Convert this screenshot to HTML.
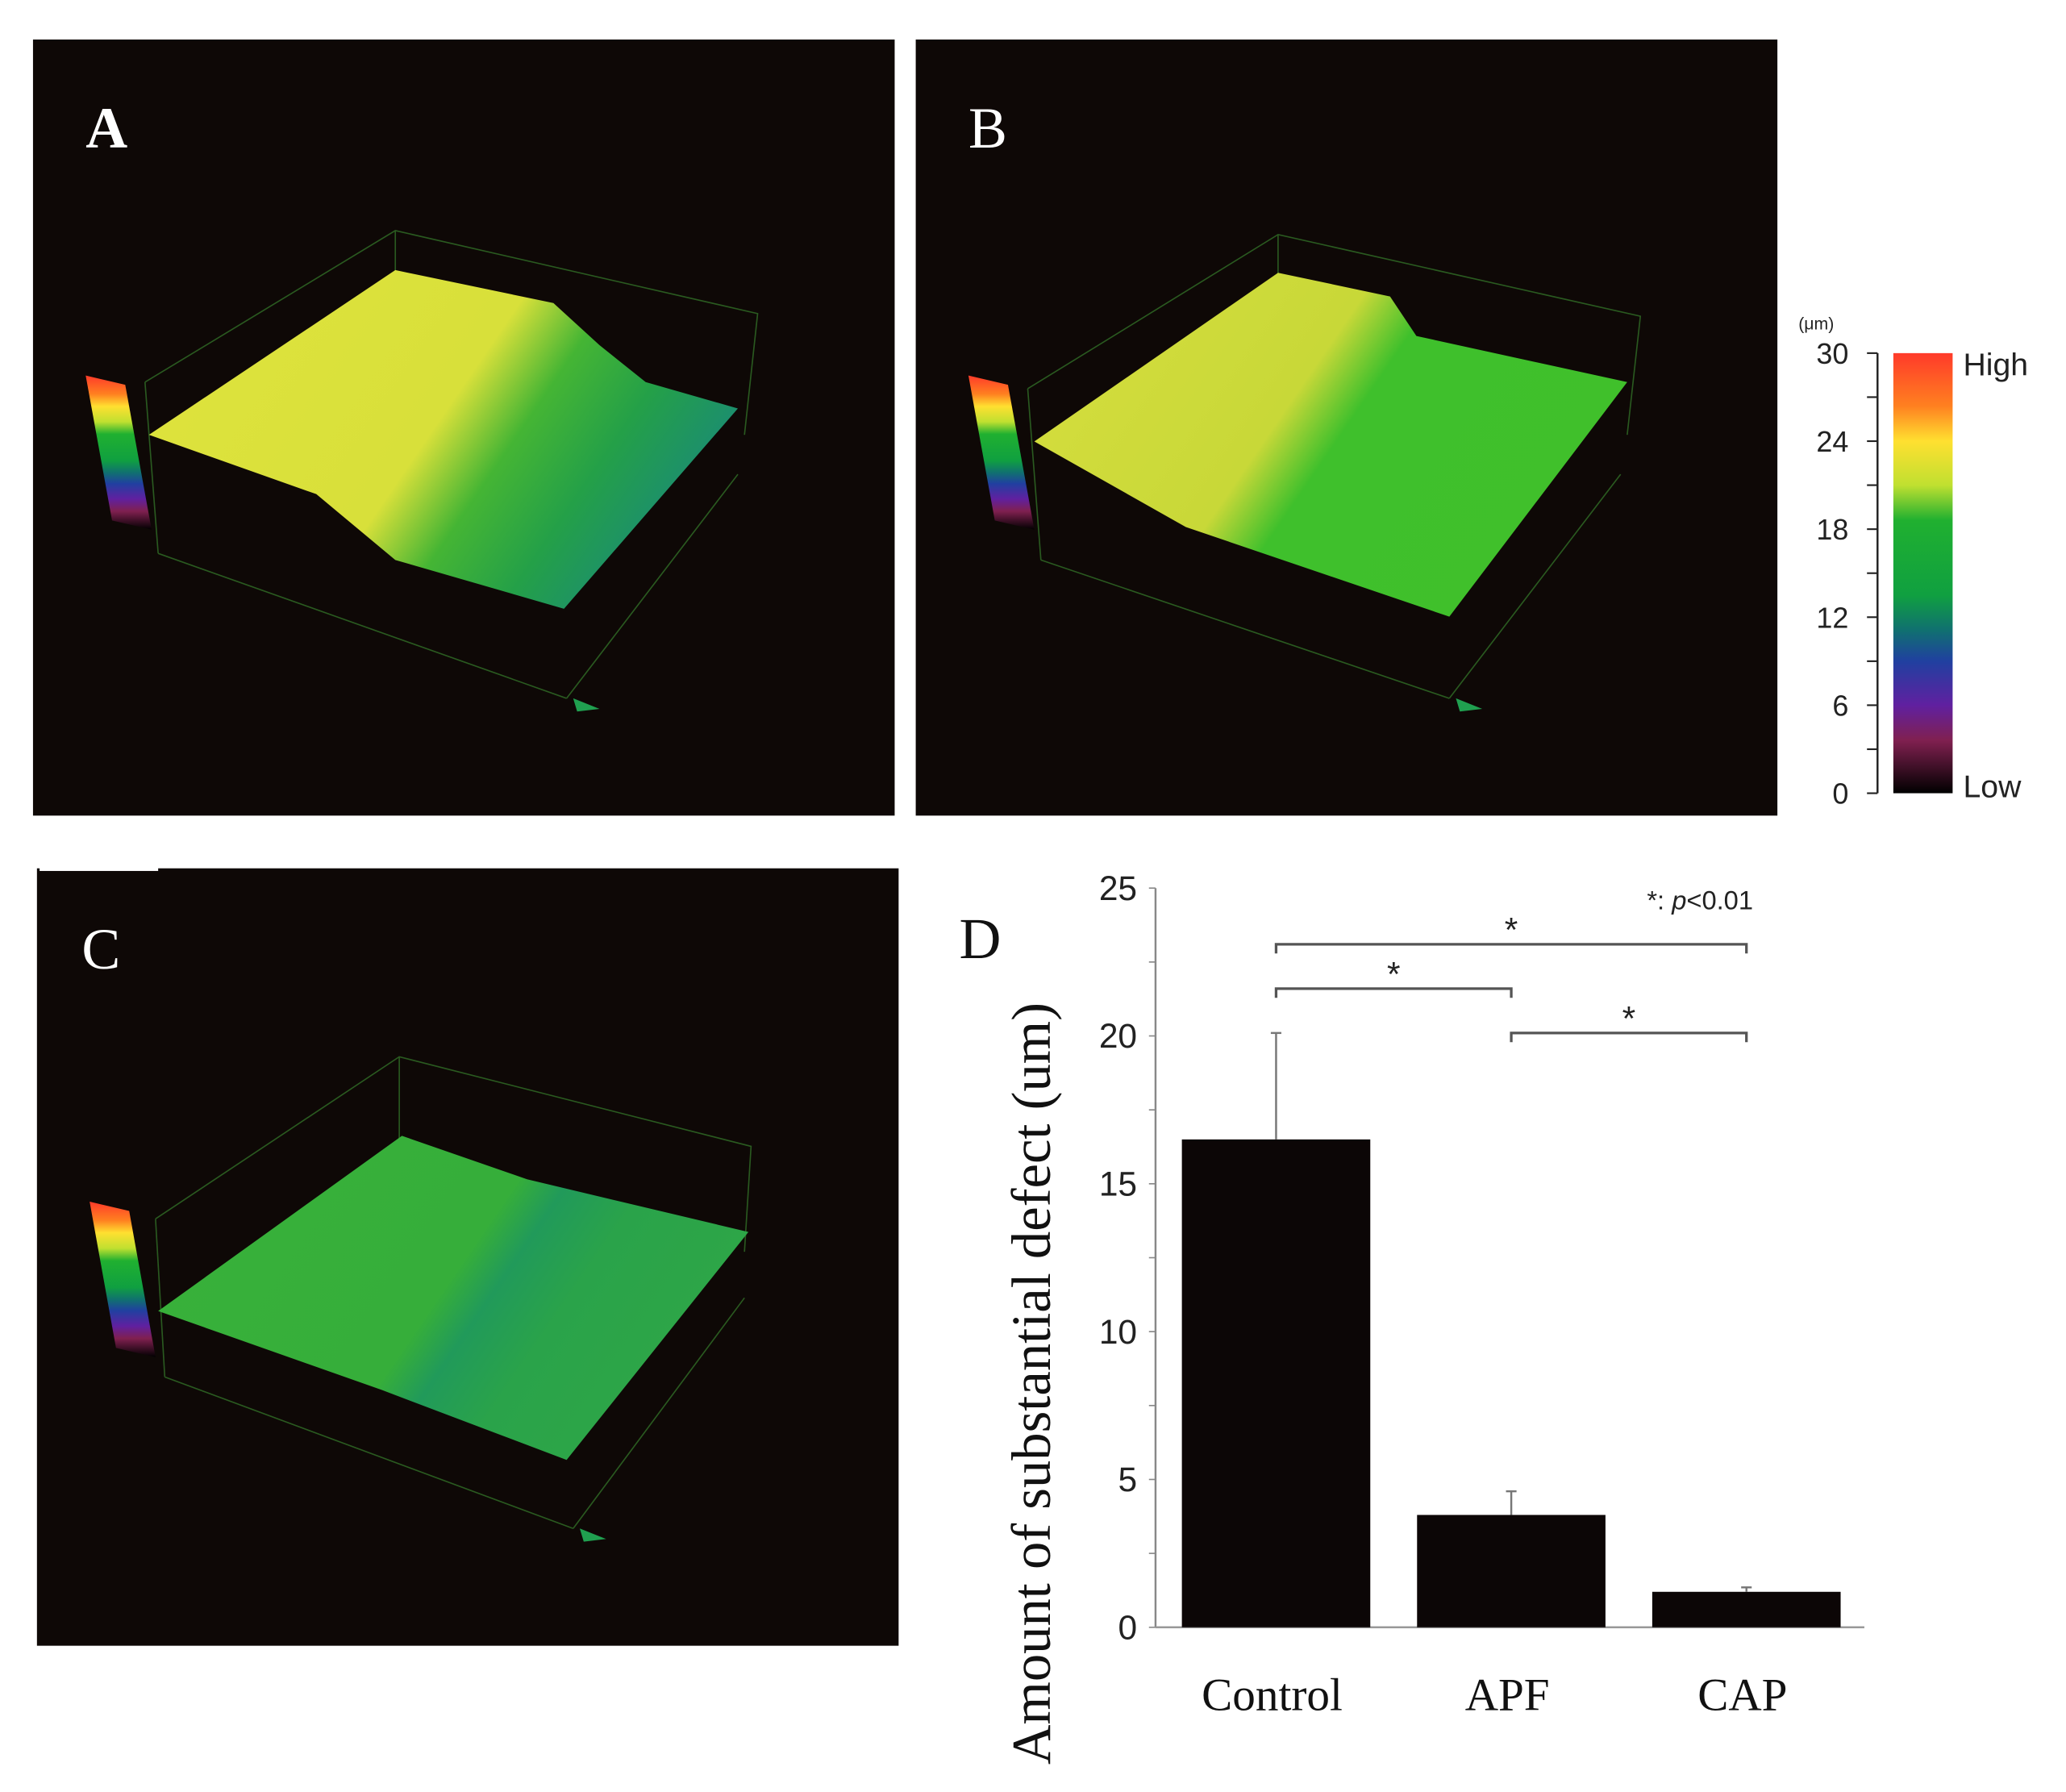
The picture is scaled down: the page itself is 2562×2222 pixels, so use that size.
<!DOCTYPE html>
<html><head><meta charset="utf-8"><style>
html,body{margin:0;padding:0;background:#fff;}
svg{display:block;}
</style></head><body>
<svg id="fig" width="2562" height="2222" viewBox="0 0 1568 1360" xmlns="http://www.w3.org/2000/svg">
<defs>
<linearGradient id="gA" gradientUnits="userSpaceOnUse" x1="200" y1="220" x2="580" y2="480">
<stop offset="0" stop-color="#dde23c"/><stop offset="0.36" stop-color="#d8e03a"/><stop offset="0.48" stop-color="#45b534"/><stop offset="0.62" stop-color="#24a048"/><stop offset="0.8" stop-color="#1a8a78"/><stop offset="1" stop-color="#1a8a78"/></linearGradient>
<linearGradient id="gB" gradientUnits="userSpaceOnUse" x1="870" y1="220" x2="1250" y2="480">
<stop offset="0" stop-color="#d2dc3c"/><stop offset="0.3" stop-color="#c8d838"/><stop offset="0.4" stop-color="#3fc02c"/><stop offset="1" stop-color="#40c02a"/></linearGradient>
<linearGradient id="gC" gradientUnits="userSpaceOnUse" x1="150" y1="860" x2="530" y2="1120">
<stop offset="0" stop-color="#38b13a"/><stop offset="0.48" stop-color="#36ae3a"/><stop offset="0.55" stop-color="#219a5a"/><stop offset="0.66" stop-color="#2aa34a"/><stop offset="1" stop-color="#30a845"/></linearGradient>
<linearGradient id="rain" x1="0" y1="0" x2="0" y2="1">
<stop offset="0" stop-color="#ff3a2a"/><stop offset="0.12" stop-color="#ff8020"/><stop offset="0.2" stop-color="#ffe030"/><stop offset="0.3" stop-color="#c0e030"/><stop offset="0.38" stop-color="#20b030"/><stop offset="0.55" stop-color="#10a040"/><stop offset="0.63" stop-color="#107070"/><stop offset="0.7" stop-color="#2040a0"/><stop offset="0.8" stop-color="#6020a0"/><stop offset="0.88" stop-color="#802050"/><stop offset="1" stop-color="#000"/></linearGradient>
</defs>

<g>
<rect x="25" y="30" width="654" height="589" fill="#0e0806"/>
<text x="65" y="112" font-family="Liberation Serif, serif" font-size="44" fill="#fff" font-weight="bold">A</text>
<g stroke="#2a5a20" stroke-width="1" fill="none">
<polyline points="110,290 300,175 575,238 565,330"/><line x1="300" y1="175" x2="300" y2="260"/><line x1="120" y1="420" x2="430" y2="530"/><line x1="430" y1="530" x2="560" y2="360"/><line x1="110" y1="290" x2="120" y2="420"/>
</g>
<polygon points="113,330 300,205 420,230 455,262 490,290 560,310 428,462 300,425 240,375" fill="url(#gA)"/>
<polygon points="65,285 95,292 115,402 85,395" fill="url(#rain)"/>
<polygon points="435,530 455,538 438,540" fill="#20a050"/>
</g>

<g>
<rect x="695" y="30" width="654" height="589" fill="#0e0806"/>
<text x="735" y="112" font-family="Liberation Serif, serif" font-size="44" fill="#fff">B</text>
<g stroke="#2a5a20" stroke-width="1" fill="none">
<polyline points="780,295 970,178 1245,240 1235,330"/><line x1="970" y1="178" x2="970" y2="260"/><line x1="790" y1="425" x2="1100" y2="530"/><line x1="1100" y1="530" x2="1230" y2="360"/><line x1="780" y1="295" x2="790" y2="425"/>
</g>
<polygon points="785,335 970,207 1055,225 1075,255 1235,290 1100,468 900,400" fill="url(#gB)"/>
<polygon points="735,285 765,292 785,402 755,395" fill="url(#rain)"/>
<polygon points="1105,530 1125,538 1108,540" fill="#20a050"/>
</g>

<g font-family="Liberation Sans, sans-serif" fill="#222">
<rect x="1437" y="268" width="45" height="334" fill="url(#rain)"/>
<text x="1365" y="250" font-size="13">(μm)</text>
<line x1="1425" y1="268" x2="1425" y2="602" stroke="#222" stroke-width="1.5"/>
<g id="cbticks"></g>
<text x="1490" y="285" font-size="24">High</text>
<text x="1490" y="605" font-size="24">Low</text>
</g>

<g>
<rect x="28" y="659" width="654" height="590" fill="#0e0806"/>
<rect x="30" y="656" width="90" height="5" fill="#fff"/>
<text x="62" y="735" font-family="Liberation Serif, serif" font-size="44" fill="#fff">C</text>
<g stroke="#2a5a20" stroke-width="1" fill="none">
<polyline points="118,925 303,802 570,870 565,950"/><line x1="303" y1="802" x2="303" y2="880"/><line x1="125" y1="1045" x2="435" y2="1160"/><line x1="435" y1="1160" x2="565" y2="985"/><line x1="118" y1="925" x2="125" y2="1045"/>
</g>
<polygon points="120,995 305,862 400,895 568,935 430,1108 290,1055" fill="url(#gC)"/>
<polygon points="68,912 98,919 118,1030 88,1023" fill="url(#rain)"/>
<polygon points="440,1160 460,1168 443,1170" fill="#20a050"/>
</g>

<g id="chart">
<text x="728" y="727" font-family="Liberation Serif, serif" font-size="44" fill="#111">D</text>
<text transform="translate(797,1050) rotate(-90)" text-anchor="middle" font-family="Liberation Serif, serif" font-size="42" fill="#111">Amount of substantial defect (um)</text>
<text x="1250" y="690" font-family="Liberation Sans, sans-serif" font-size="20" fill="#222">*: <tspan font-style="italic">p</tspan>&lt;0.01</text>
<g id="axes"></g><g id="bars"></g><g id="sig"></g>
</g>
</svg>
<script>
const categories=["Control","APF","CAP"];
const values=[16.5,3.8,1.2];
const errors=[3.6,0.8,0.15];
const yTicks=[0,5,10,15,20,25];
const cbTicks=[0,6,12,18,24,30];
const NS="http://www.w3.org/2000/svg";
function mk(tag,attrs,parent,text){const e=document.createElementNS(NS,tag);for(const k in attrs)e.setAttribute(k,attrs[k]);if(text!==undefined)e.textContent=text;parent.appendChild(e);return e;}
const y0=1235,y25=674,xAxis=877,xEnd=1415;
function yScale(v){return y0-(v/25)*(y0-y25);}
const bandStart=897,band=178.5,barW=143;
function xScale(i){return bandStart+i*band;}
const axes=document.getElementById('axes');
let ax=mk('line',{x1:xAxis,y1:y25,x2:xAxis,y2:y0,stroke:'#888','stroke-width':1.5},axes);


let bx=mk('line',{x1:xAxis,y1:y0,x2:xEnd,y2:y0,stroke:'#999','stroke-width':1.5},axes);


for(let t=0;t<=25;t+=2.5){mk('line',{x1:xAxis-5,y1:yScale(t),x2:xAxis,y2:yScale(t),stroke:'#888','stroke-width':1},axes);}
yTicks.forEach(t=>{const e=mk('text',{x:xAxis-14,y:yScale(t)+9,'text-anchor':'end','font-family':'Liberation Sans, sans-serif','font-size':26,fill:'#222'},axes,String(t));

});
const bars=document.getElementById('bars');
values.forEach((v,i)=>{const x=xScale(i);
const r=mk('rect',{x:x,y:yScale(v),width:barW,height:y0-yScale(v),fill:'#0c0606'},bars);


const cx=x+barW/2;
const eb=mk('line',{x1:cx,y1:yScale(v),x2:cx,y2:yScale(v+errors[i]),stroke:'#777','stroke-width':1.5},bars);


mk('line',{x1:cx-4,y1:yScale(v+errors[i]),x2:cx+4,y2:yScale(v+errors[i]),stroke:'#777','stroke-width':1.5},bars);
const l=mk('text',{x:cx-3,y:1298,'text-anchor':'middle','font-family':'Liberation Serif, serif','font-size':35,fill:'#111'},bars,categories[i]);

});
const sig=document.getElementById('sig');
const pairs=[[0,2,23.1],[0,1,21.6],[1,2,20.1]];
pairs.forEach(p=>{const xa=xScale(p[0])+barW/2,xb=xScale(p[1])+barW/2,yy=yScale(p[2]);
const b=mk('polyline',{points:`${xa},${yy+7} ${xa},${yy} ${xb},${yy} ${xb},${yy+7}`,fill:'none',stroke:'#555','stroke-width':2},sig);


const s=mk('text',{x:(xa+xb)/2,y:yy-2,'text-anchor':'middle','font-family':'Liberation Sans, sans-serif','font-size':26,fill:'#222'},sig,'*');

});
const cb=document.getElementById('cbticks');
const cbTop=268,cbBot=602;
function cbScale(v){return cbBot-(v/30)*(cbBot-cbTop);}
for(let t=0;t<=30;t+=3){mk('line',{x1:1417,y1:cbScale(t),x2:1425,y2:cbScale(t),stroke:'#222','stroke-width':1.3},cb);}
cbTicks.forEach(t=>{const e=mk('text',{x:1403,y:cbScale(t)+8,'text-anchor':'end','font-family':'Liberation Sans, sans-serif','font-size':22,fill:'#222'},cb,String(t));

});
</script>
</body></html>
